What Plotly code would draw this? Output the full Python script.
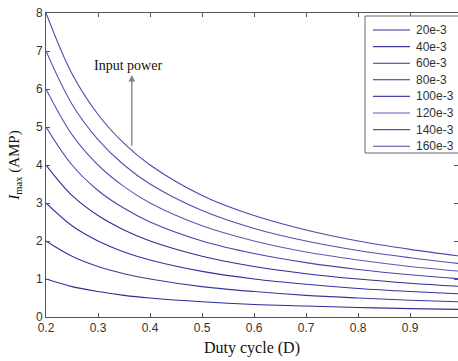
import plotly.graph_objects as go

duty = [0.2, 0.25, 0.3, 0.35, 0.4, 0.5, 0.6, 0.7, 0.8, 0.9, 0.992]
labels = ["20e-3", "40e-3", "60e-3", "80e-3", "100e-3", "120e-3", "140e-3", "160e-3"]
i_20 = [1.0, 0.80, 0.67, 0.57, 0.50, 0.40, 0.33, 0.29, 0.25, 0.22, 0.20]
i_40 = [2.0, 1.60, 1.33, 1.14, 1.00, 0.80, 0.67, 0.57, 0.50, 0.44, 0.40]
i_60 = [3.0, 2.40, 2.00, 1.71, 1.50, 1.20, 1.00, 0.86, 0.75, 0.67, 0.61]
i_80 = [4.0, 3.20, 2.67, 2.29, 2.00, 1.60, 1.33, 1.14, 1.00, 0.89, 0.81]
i_100 = [5.0, 4.00, 3.33, 2.86, 2.50, 2.00, 1.67, 1.43, 1.25, 1.11, 1.01]
i_120 = [6.0, 4.80, 4.00, 3.43, 3.00, 2.40, 2.00, 1.71, 1.50, 1.33, 1.21]
i_140 = [7.0, 5.60, 4.67, 4.00, 3.50, 2.80, 2.33, 2.00, 1.75, 1.56, 1.41]
i_160 = [8.0, 6.40, 5.33, 4.57, 4.00, 3.20, 2.67, 2.29, 2.00, 1.78, 1.61]
series = [i_20, i_40, i_60, i_80, i_100, i_120, i_140, i_160]
colors = ["#2e2e96", "#3a3a9e", "#3232a0", "#2e2e96", "#4646ac", "#5a5ab8", "#5050b2", "#4a4aae"]

fig = go.Figure()
for lab, ys, c in zip(labels, series, colors):
    fig.add_trace(go.Scatter(x=duty, y=ys, mode="lines", name=lab, showlegend=False,
                             line=dict(color=c, width=1.1, shape="spline")))

fig.add_annotation(x=0.365, y=6.37, ax=0.365, ay=4.47, xref="x", yref="y",
                   axref="x", ayref="y", text="", showarrow=True,
                   arrowhead=2, arrowsize=1, arrowwidth=1.3, arrowcolor="#808080")
fig.add_annotation(x=0.358, y=6.62, xref="x", yref="y", text="Input power",
                   showarrow=False, yanchor="middle",
                   font=dict(family="Liberation Serif", size=14, color="#111"))

# custom legend (compact spacing like the reference)
W, H, L, T = 412.0, 304.0, 46.0, 13.0
def px(x):
    return (x - L) / W
def py(y):
    return 1 - (y - T) / H
fig.add_shape(type="rect", xref="paper", yref="paper", x0=px(365), x1=px(470),
              y0=py(153), y1=py(16), line=dict(color="#666", width=1),
              fillcolor="white", layer="above")
for k, (lab, c) in enumerate(zip(labels, colors)):
    yy = 30 + 16.6 * k
    fig.add_shape(type="line", xref="paper", yref="paper", x0=px(373), x1=px(410),
                  y0=py(yy), y1=py(yy), line=dict(color=c, width=1.1), layer="above")
    fig.add_annotation(x=px(414), y=py(yy), xref="paper", yref="paper", text=lab,
                       showarrow=False, xanchor="left", yanchor="middle",
                       font=dict(family="Liberation Sans", size=12, color="#333"))

axis_common = dict(showgrid=False, zeroline=False, showline=True, linecolor="#555",
                   linewidth=1, ticks="inside", ticklen=4, tickcolor="#555",
                   mirror="ticks", tickfont=dict(family="Liberation Sans", size=12, color="#333"))
fig.update_xaxes(range=[0.2, 0.992], tickvals=[0.2, 0.3, 0.4, 0.5, 0.6, 0.7, 0.8, 0.9],
                 ticktext=["0.2", "0.3", "0.4", "0.5", "0.6", "0.7", "0.8", "0.9"],
                 title=dict(text="Duty cycle (D)", standoff=7,
                            font=dict(family="Liberation Serif", size=16, color="#111")),
                 **axis_common)
fig.update_yaxes(range=[0, 8], tickvals=list(range(9)),
                 title=dict(text="<i>I</i><sub>max</sub> (AMP)", standoff=12,
                            font=dict(family="Liberation Serif", size=15, color="#111")),
                 **axis_common)

fig.update_layout(width=458, height=361, margin=dict(l=46, r=0, t=13, b=44),
                  plot_bgcolor="white", paper_bgcolor="white", showlegend=False)
fig.write_html("out.html")
